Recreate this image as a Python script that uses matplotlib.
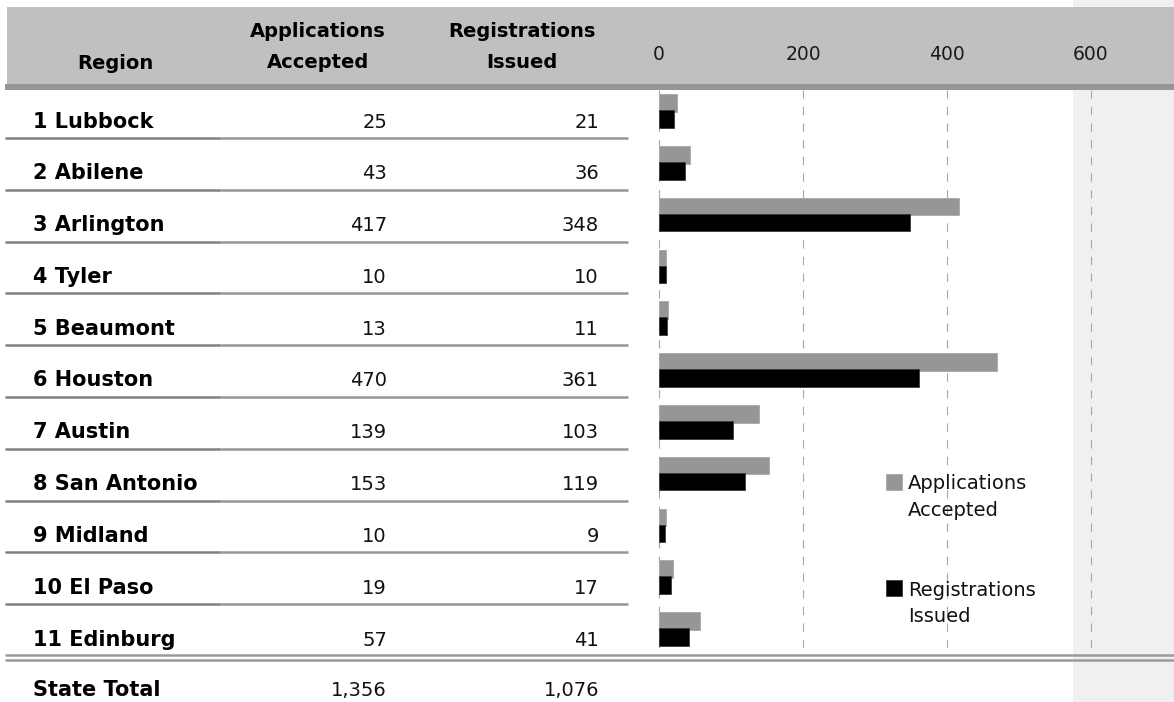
import matplotlib
matplotlib.use("Agg")
import matplotlib.pyplot as plt
from matplotlib.patches import Rectangle
from matplotlib.lines import Line2D

# данные таблицы
regions = ["1 Lubbock", "2 Abilene", "3 Arlington", "4 Tyler", "5 Beaumont",
           "6 Houston", "7 Austin", "8 San Antonio", "9 Midland", "10 El Paso",
           "11 Edinburg"]
apps = [25, 43, 417, 10, 13, 470, 139, 153, 10, 19, 57]
regs = [21, 36, 348, 10, 11, 361, 103, 119, 9, 17, 41]
ticks = [0, 200, 400, 600]

W, H = 1174, 702
def fx(x):
    return x / W
def fy(y):
    return 1 - y / H

ROW0 = 118.0   # центр первой строки, px
PITCH = 51.8   # шаг строк, px

fig = plt.figure(figsize=(W / 100, H / 100), dpi=100)
fig.patch.set_facecolor("white")

# светлая панель справа
fig.add_artist(Rectangle((fx(1073), 0), fx(W) - fx(1073), 1, transform=fig.transFigure,
                         facecolor="#F0F0F0", edgecolor="none", zorder=-2))
# шапка
fig.add_artist(Rectangle((fx(7), fy(84)), fx(W) - fx(7), fy(7) - fy(84),
                         transform=fig.transFigure, facecolor="#C0C0C0",
                         edgecolor="none", zorder=-1))
fig.add_artist(Rectangle((fx(5), fy(90)), fx(W) - fx(5), fy(84) - fy(90),
                         transform=fig.transFigure, facecolor="#969696",
                         edgecolor="none", zorder=-1))

hdr = dict(fontsize=14, fontweight="bold", color="black", va="baseline", ha="center")
fig.text(fx(115), fy(69), "Region", **hdr)
fig.text(fx(318), fy(37), "Applications", **hdr)
fig.text(fx(318), fy(68), "Accepted", **hdr)
fig.text(fx(522), fy(37), "Registrations", **hdr)
fig.text(fx(522), fy(68), "Issued", **hdr)

# строки таблицы
for i, name in enumerate(regions):
    c = ROW0 + PITCH * i
    base = c + 9.5
    fig.text(fx(33), fy(base), name, fontsize=15, fontweight="bold", va="baseline", ha="left")
    fig.text(fx(387), fy(base), f"{apps[i]:,}", fontsize=14, va="baseline", ha="right",
             color="#111111")
    fig.text(fx(599), fy(base), f"{regs[i]:,}", fontsize=14, va="baseline", ha="right",
             color="#111111")
    if i < len(regions) - 1:
        ys = fy(c + 20)
        fig.add_artist(Line2D([fx(5), fx(221)], [ys, ys], color="#808080", lw=1.8,
                              solid_capstyle="butt"))
        fig.add_artist(Line2D([fx(221), fx(628)], [ys, ys], color="#969696", lw=1.8,
                              solid_capstyle="butt"))

# двойная линия перед итогом
for yy in (654.5, 659.5):
    fig.add_artist(Line2D([fx(5), fx(W)], [fy(yy), fy(yy)], color="#9A9A9A", lw=1.8,
                          solid_capstyle="butt"))

fig.text(fx(33), fy(696), "State Total", fontsize=15, fontweight="bold", va="baseline", ha="left")
fig.text(fx(387), fy(696), f"{sum(apps):,}", fontsize=14, va="baseline", ha="right",
         color="#111111")
fig.text(fx(599), fy(696), f"{sum(regs):,}", fontsize=14, va="baseline", ha="right",
         color="#111111")

# столбчатая диаграмма
ax = fig.add_axes([fx(640), fy(648), fx(W) - fx(640), fy(90) - fy(648)])
ax.set_facecolor("none")
ax.set_xlim(-19 / 0.72, (W - 659) / 0.72)
ax.set_ylim((648 - ROW0) / PITCH, (90 - ROW0) / PITCH)
pos = list(range(len(regions)))
h = 17.5 / PITCH
ax.barh([p - 15 / PITCH for p in pos], apps, height=h, color="#969696",
        edgecolor="#A8A8A8", linewidth=0.6, zorder=3)
ax.barh([p + 1 / PITCH for p in pos], regs, height=h, color="black",
        edgecolor="#3A3A3A", linewidth=0.6, zorder=4)
ax.set_xticks(ticks)
ax.set_xticklabels([str(t) for t in ticks])
ax.xaxis.tick_top()
ax.tick_params(axis="x", length=0, pad=18.5, labelsize=13.5, labelcolor="#1A1A1A")
ax.set_yticks([])
ax.grid(axis="x", color="#A6A6A6", linestyle=(0, (7.5, 7.5)), linewidth=0.8, zorder=1)
for s in ax.spines.values():
    s.set_visible(False)

# легенда
fig.add_artist(Rectangle((fx(886), fy(490)), fx(16), 16 / H, transform=fig.transFigure,
                         facecolor="#969696", edgecolor="#A8A8A8", lw=0.6))
fig.add_artist(Rectangle((fx(886), fy(596)), fx(16), 16 / H, transform=fig.transFigure,
                         facecolor="black", edgecolor="#3A3A3A", lw=0.6))
leg = dict(fontsize=14, va="baseline", ha="left", color="#111111")
fig.text(fx(908), fy(489), "Applications", **leg)
fig.text(fx(908), fy(516), "Accepted", **leg)
fig.text(fx(908), fy(596), "Registrations", **leg)
fig.text(fx(908), fy(622), "Issued", **leg)

fig.savefig("out.png", dpi=100)
